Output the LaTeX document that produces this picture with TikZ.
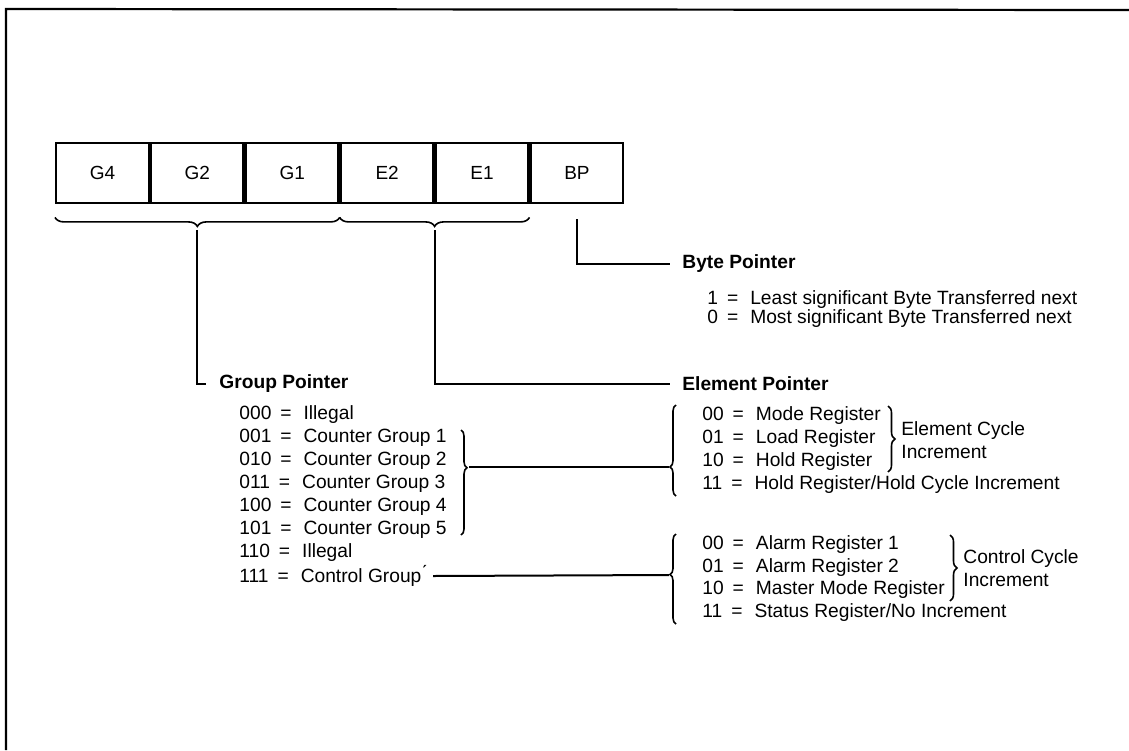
\documentclass[tikz,border=0pt]{standalone}
\usepackage{fontspec}
\setmainfont{Liberation Sans}
\usetikzlibrary{decorations.pathreplacing,calc}
\newcommand\myeq{\hspace{4.5pt}=\hspace{6pt}}
\begin{document}
\begin{tikzpicture}[x=0.5pt,y=-0.5pt,
  reg/.style={draw,line width=1.2pt,minimum width=46.25pt,minimum height=30pt,inner sep=0pt,anchor=north west,font=\fontsize{9.5}{11}\selectfont},
  lbl/.style={anchor=west,inner sep=0pt,font=\fontsize{9.6}{11.5}\selectfont},
  head/.style={anchor=west,inner sep=0pt,font=\fontsize{9.6}{11.5}\selectfont\bfseries},
  two/.style={anchor=west,inner sep=0pt,align=left,font=\fontsize{9.6}{11.5}\selectfont},
  conn/.style={line width=1pt},
  brc/.style={decorate,line width=0.8pt,decoration={brace,amplitude=#1}},
]
\useasboundingbox (0,0) rectangle (1129,750);
% frame
\draw[line width=1.1pt] (6,750) -- (6,9) -- (1129,10);
% register boxes
\node[reg] (g4) at (55,142) {G4};
\node[reg] (g2) at (g4.north east) {G2};
\node[reg] (g1) at (g2.north east) {G1};
\node[reg] (e2) at (g1.north east) {E2};
\node[reg] (e1) at (e2.north east) {E1};
\node[reg] (bp) at (e1.north east) {BP};
% braces under boxes
\draw[brc=4.5pt,decoration={mirror}] ($(g4.south west)+(0,13)$) -- ($(g1.south east)+(0,13)$);
\draw[brc=4.5pt,decoration={mirror}] ($(e2.south west)+(0,13)$) -- ($(e1.south east)+(0,13)$);
\coordinate (gtip) at ($(g2.south)+(0,26)$);
\coordinate (etip) at ($(e2.south east)+(0,26)$);
\coordinate (bptop) at ($(bp.south)+(0,15)$);
% headings
\node[head] (bpt) at (682,264) {Byte Pointer};
\node[head] (gpt) at (219,384) {Group Pointer};
\node[head] (ept) at (682,384) {Element Pointer};
\draw[conn] (bptop) |- ([xshift=-6pt]bpt.west);
\draw[conn] (gtip) |- ([xshift=-6.5pt]gpt.west);
\draw[conn] (etip) |- ([xshift=-6pt]ept.west);
% byte pointer values
\node[lbl] (b1) at (707,300) {1\myeq Least significant Byte Transferred next};
\node[lbl] (b0) at (707,319) {0\myeq Most significant Byte Transferred next};
% group pointer values
\node[lbl] (r0) at (239,415) {000\myeq Illegal};
\node[lbl] (r1) at (239,438) {001\myeq Counter Group 1};
\node[lbl] (r2) at (239,461) {010\myeq Counter Group 2};
\node[lbl] (r3) at (239,484) {011\myeq Counter Group 3};
\node[lbl] (r4) at (239,507) {100\myeq Counter Group 4};
\node[lbl] (r5) at (239,530) {101\myeq Counter Group 5};
\node[lbl] (r6) at (239,553) {110\myeq Illegal};
\node[lbl] (r7) at (239,576) {111\myeq Control Group\'{}};
% group brace and link to element registers
\draw[brc=3pt,decoration={aspect=0.36}] (461,430) -- (461,535);
\coordinate (gbt) at (469,467);
\coordinate (elt) at (669,467);
\draw[conn] (gbt) -- (elt);
% element register values
\draw[brc=3pt,decoration={mirror,aspect=0.68}] (676,405) -- (676,496);
\node[lbl] (e00) at (702,416) {00\myeq Mode Register};
\node[lbl] (e01) at (702,439) {01\myeq Load Register};
\node[lbl] (e10) at (702,462) {10\myeq Hold Register};
\node[lbl] (e11) at (702,485) {11\myeq Hold Register/Hold Cycle Increment};
\draw[brc=3.5pt] (888,406) -- (888,472);
\node[two] (eci) at (901,440) {Element Cycle\\Increment};
% control register values
\coordinate (ctl) at (669,575);
\draw[conn] ([xshift=3pt]r7.east) -- (ctl);
\draw[brc=3pt,decoration={mirror,aspect=0.45}] (676,534) -- (676,624);
\node[lbl] (c00) at (702,545) {00\myeq Alarm Register 1};
\node[lbl] (c01) at (702,568) {01\myeq Alarm Register 2};
\node[lbl] (c10) at (702,590) {10\myeq Master Mode Register};
\node[lbl] (c11) at (702,613) {11\myeq Status Register/No Increment};
\draw[brc=3.5pt] (950,535) -- (950,601);
\node[two] (cci) at (963,568.5) {Control Cycle\\Increment};
\end{tikzpicture}
\end{document}
